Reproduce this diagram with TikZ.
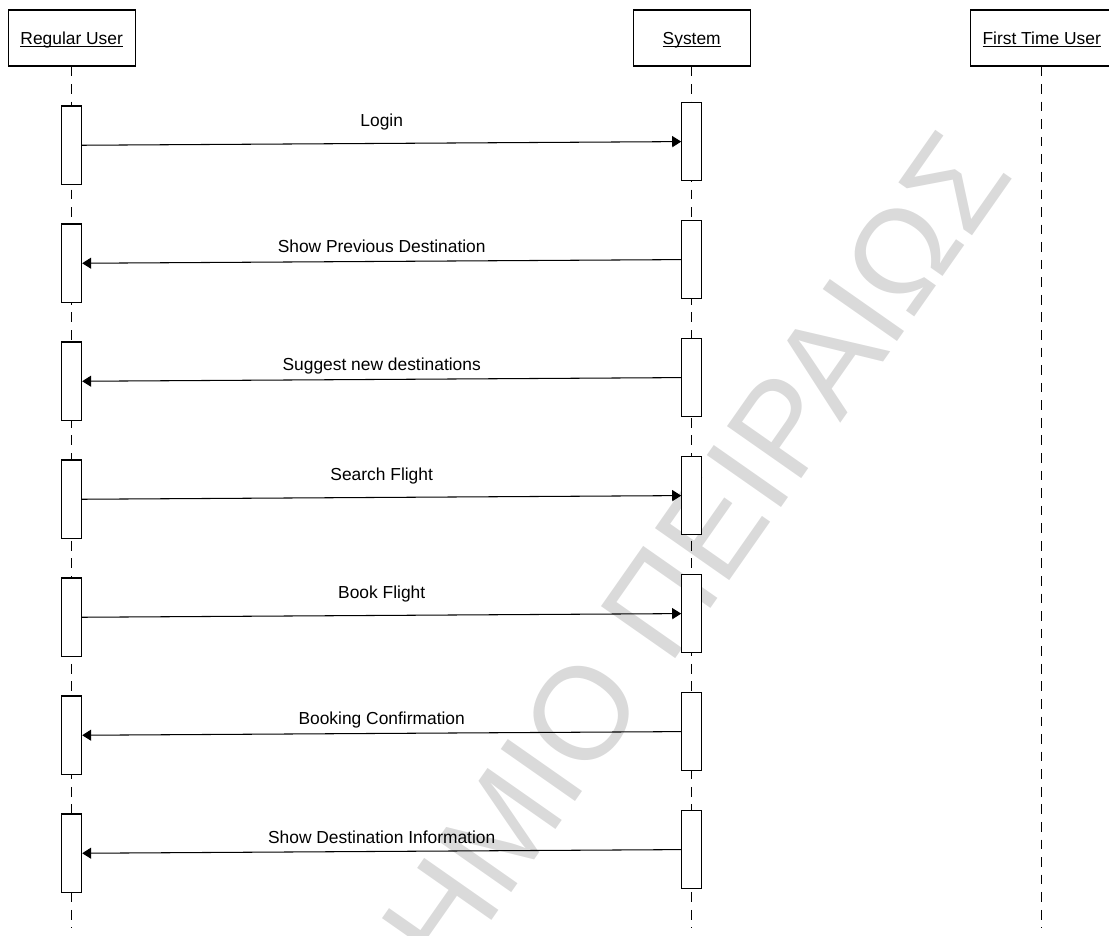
\documentclass[tikz,border=0pt]{standalone}
\usepackage{fontspec}
\setmainfont{Liberation Sans}
\usetikzlibrary{arrows.meta}
\definecolor{wmgray}{RGB}{218,218,218}
\newcommand{\ulname}[1]{\underline{\smash{#1}}}
\tikzset{
  head/.style={draw, minimum height=1.12cm, inner sep=0pt, text height=7.2pt, text depth=0pt},
  lifeline/.style={dash pattern=on 5.5pt off 4.5pt},
  act/.style={draw, fill=white, minimum width=0.4cm, minimum height=1.57cm, inner sep=0pt},
  call/.style={-{Triangle[length=5.1pt,width=6.3pt]}},
  reply/.style={-{Triangle[length=5.1pt,width=6.3pt]}},
  calllbl/.style={midway, anchor=base, yshift=9.5pt, inner sep=0pt},
  replylbl/.style={midway, anchor=base, yshift=4.8pt, inner sep=0pt},
  wmark/.style={text=wmgray, rotate=55, anchor=base east, inner sep=0pt,
    font=\fontsize{75pt}{80pt}\selectfont}
}
\begin{document}
\begin{tikzpicture}[x=0.02cm, y=-0.02cm, line width=0.6pt, font=\fontsize{9.9pt}{12pt}\selectfont]
  \useasboundingbox (0,0) rectangle (1109,936);
  \node[wmark] (wm) at (1015,174) {ΗΜΙΟ ΠΕΙΡΑΙΩΣ}; % watermark

  % lifeline heads
  \node[head, minimum width=2.54cm] (ru) at (71.7,38) {\ulname{Regular User}};
  \node[head, minimum width=2.34cm] (sys) at (691.7,38) {\ulname{System}};
  \node[head, minimum width=2.84cm] (ftu) at (1041.7,38) {\ulname{First Time User}};

  \coordinate (ruend) at (71.7,928);
  \coordinate (sysend) at (691.7,928);
  \coordinate (ftuend) at (1041.7,928);
  \draw[lifeline] (ru) -- (ruend);
  \draw[lifeline] (sys) -- (sysend);
  \draw[lifeline] (ftu) -- (ftuend);

  % activations
  \foreach \k in {0,...,6} {
    \node[act] (u\k) at (71.7,{145.25+118*\k}) {};
    \node[act] (s\k) at (691.7,{141.6+118*\k}) {};
  }

  % messages
  \draw[call] (u0.east) -- node[calllbl] {Login} (s0.west);
  \draw[reply] (s1.west) -- node[replylbl] {Show Previous Destination} (u1.east);
  \draw[reply] (s2.west) -- node[replylbl] {Suggest new destinations} (u2.east);
  \draw[call] (u3.east) -- node[calllbl] {Search Flight} (s3.west);
  \draw[call] (u4.east) -- node[calllbl] {Book Flight} (s4.west);
  \draw[reply] (s5.west) -- node[replylbl] {Booking Confirmation} (u5.east);
  \draw[reply] (s6.west) -- node[replylbl] {Show Destination Information} (u6.east);
\end{tikzpicture}
\end{document}
